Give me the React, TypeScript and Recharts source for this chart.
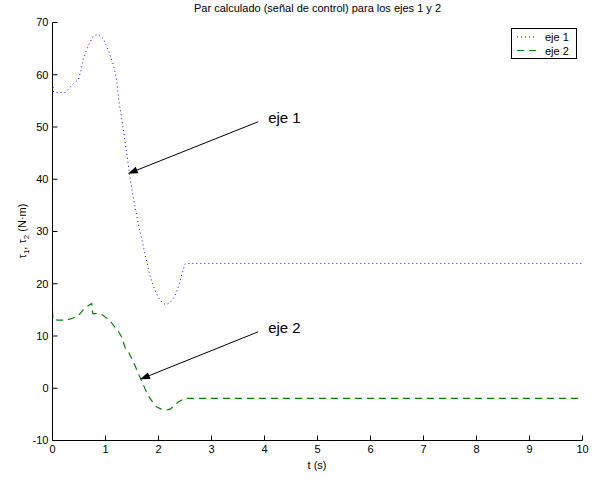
import { Line, LineChart, ReferenceLine, XAxis, YAxis } from "recharts";

const tiempo1 = [0, 0.02, 0.1, 0.25, 0.36, 0.49, 0.54, 0.58, 0.68, 0.77, 0.86, 0.96, 1.05, 1.15, 1.21, 1.25, 1.33, 1.4, 1.46, 1.52, 1.59, 1.65, 1.75, 1.84, 1.93, 2.02, 2.08, 2.14, 2.22, 2.3, 2.38, 2.44, 2.5, 2.6, 10];
const eje1 = [58.4, 56.7, 56.6, 56.6, 58.0, 59.1, 60.9, 63.1, 65.7, 67.4, 67.8, 66.9, 64.7, 61.9, 59.0, 55.2, 50.0, 45.0, 40.5, 36.7, 33.0, 30.0, 25.5, 21.5, 18.8, 17.0, 16.3, 16.0, 16.4, 17.5, 19.5, 21.8, 23.8, 23.9, 23.9];

const tiempo2 = [0, 0.01, 0.1, 0.27, 0.38, 0.49, 0.58, 0.66, 0.74, 0.76, 0.85, 0.93, 1.08, 1.18, 1.25, 1.31, 1.37, 1.43, 1.52, 1.6, 1.68, 1.75, 1.82, 1.9, 1.97, 2.05, 2.14, 2.22, 2.3, 2.38, 2.45, 2.5, 10];
const eje2 = [14.8, 13.1, 13.05, 13.05, 13.4, 13.95, 15.0, 15.7, 16.2, 14.3, 14.3, 14.1, 13.05, 11.6, 10.8, 9.7, 7.8, 7.0, 5.2, 3.3, 1.4, -0.2, -1.6, -2.8, -3.6, -4.0, -4.2, -4.0, -3.3, -2.6, -2.2, -1.95, -1.95];

const ticksT = [0, 1, 2, 3, 4, 5, 6, 7, 8, 9, 10];
const ticksTau = [-10, 0, 10, 20, 30, 40, 50, 60, 70];

// notas con flecha: [cola, punta]
const notas = [
  { texto: "eje 1", cola: { x: 3.88, y: 51 }, punta: { x: 1.42, y: 41.05 } },
  { texto: "eje 2", cola: { x: 3.88, y: 10.8 }, punta: { x: 1.65, y: 1.7 } },
];

const serie1 = tiempo1.map((t, i) => ({ t, v: eje1[i] }));
const serie2 = tiempo2.map((t, i) => ({ t, v: eje2[i] }));

const fuente = "'Liberation Sans', Arial, Helvetica, sans-serif";

function Flecha(texto: string) {
  return (props: any) => {
    const { x1, y1, x2, y2 } = props;
    const ang = Math.atan2(y2 - y1, x2 - x1);
    const L = 10;
    const W = 3.5;
    const bx = x2 - L * Math.cos(ang);
    const by = y2 - L * Math.sin(ang);
    const px = -Math.sin(ang) * W;
    const py = Math.cos(ang) * W;
    return (
      <g>
        <line x1={x1} y1={y1} x2={bx} y2={by} stroke="#000" strokeWidth={1} />
        <polygon points={`${x2},${y2} ${bx + px},${by + py} ${bx - px},${by - py}`} fill="#000" />
        <text x={x1 + 10} y={y1 + 1} fontSize={15} fontFamily={fuente} fill="#000">
          {texto}
        </text>
      </g>
    );
  };
}

export default function App() {
  return (
    <div style={{ position: "absolute", left: 0, top: 0, width: 599, height: 481, background: "#fff", fontFamily: fuente }}>
      <div style={{ position: "absolute", top: 2, left: 52, width: 531, textAlign: "center", fontSize: 11, lineHeight: "13px", color: "#000" }}>
        Par calculado (señal de control) para los ejes 1 y 2
      </div>
      <LineChart width={599} height={481} margin={{ top: 22.5, right: 16.5, bottom: 0, left: 0 }}>
        <XAxis dataKey="t" type="number" domain={[0, 10]} ticks={ticksT} height={40.5} tickSize={-5} tickMargin={10}
          tick={{ fontSize: 11, fill: "#000", fontFamily: fuente }} axisLine={{ stroke: "#000" }} tickLine={{ stroke: "#000" }} allowDataOverflow />
        <XAxis xAxisId="top" orientation="top" dataKey="t" type="number" domain={[0, 10]} ticks={ticksT} height={0} tickSize={-5}
          tick={false} axisLine={{ stroke: "#000" }} tickLine={{ stroke: "#000" }} allowDataOverflow />
        <YAxis type="number" domain={[-10, 70]} ticks={ticksTau} width={52.5} tickSize={-5} tickMargin={9}
          tick={{ fontSize: 11, fill: "#000", fontFamily: fuente }} axisLine={{ stroke: "#000" }} tickLine={{ stroke: "#000" }} allowDataOverflow />
        <YAxis yAxisId="right" orientation="right" type="number" domain={[-10, 70]} ticks={ticksTau} width={0} tickSize={-5}
          tick={false} axisLine={{ stroke: "#000" }} tickLine={{ stroke: "#000" }} allowDataOverflow />
        <Line data={serie1} dataKey="v" name="eje 1" type="linear" stroke="#0000ff" strokeWidth={1} strokeDasharray="1 3" dot={false} isAnimationActive={false} />
        <Line data={serie2} dataKey="v" name="eje 2" type="linear" stroke="#008000" strokeWidth={1.2} strokeDasharray="7 5" dot={false} isAnimationActive={false} />
        {notas.map((n) => (
          <ReferenceLine key={n.texto} segment={[n.cola, n.punta]} ifOverflow="visible" shape={Flecha(n.texto)} />
        ))}
      </LineChart>
      <svg style={{ position: "absolute", left: 0, top: 0, pointerEvents: "none" }} width={599} height={481}>
        <text transform="translate(26,231) rotate(-90)" textAnchor="middle" fontSize={11} fontFamily={fuente} fill="#000">
          τ<tspan fontSize={8} dy={3}>1</tspan><tspan dy={-3}>, τ</tspan><tspan fontSize={8} dy={3}>2</tspan><tspan dy={-3}> (N·m)</tspan>
        </text>
        <text x={317} y={469} textAnchor="middle" fontSize={11} fontFamily={fuente} fill="#000">t (s)</text>
      </svg>
      <div style={{ position: "absolute", left: 511, top: 28, width: 64, height: 29, border: "1px solid #000", background: "#fff", fontSize: 11, color: "#000" }}>
        <svg width={64} height={29} style={{ position: "absolute", left: 0, top: 0 }}>
          <line x1={5} y1={8} x2={25} y2={8} stroke="#0000ff" strokeDasharray="1 3" />
          <line x1={5} y1={21.5} x2={25} y2={21.5} stroke="#008000" strokeWidth={1.2} strokeDasharray="7 5" />
          <text x={33} y={12} fontSize={11} fontFamily={fuente} fill="#000">eje 1</text>
          <text x={33} y={25.5} fontSize={11} fontFamily={fuente} fill="#000">eje 2</text>
        </svg>
      </div>
    </div>
  );
}
